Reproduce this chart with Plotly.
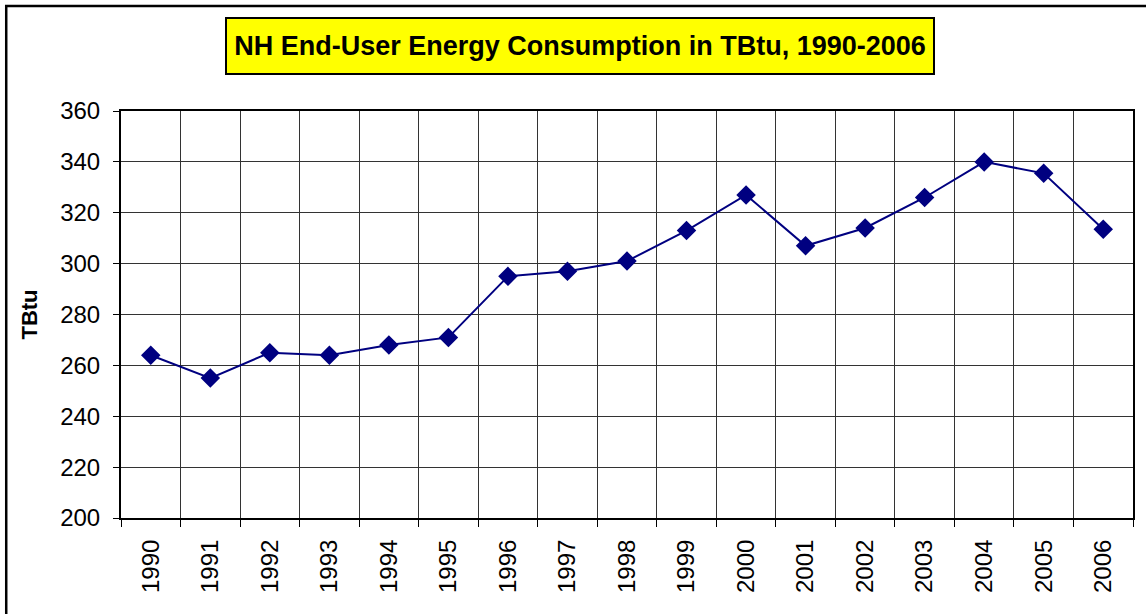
import plotly.graph_objects as go

years = [str(y) for y in range(1990, 2007)]
tbtu = [264, 255, 265, 264, 268, 271, 295, 297, 301, 313, 327, 307, 314, 326, 340, 335.5, 313.5]

title_text = "NH End-User Energy Consumption in TBtu, 1990-2006"
y_title = "TBtu"

W, H = 1146, 614
L, R, T, B = 121, 11, 111, 96
pw, ph = W - L - R, H - T - B

def px(x):
    return (x - L) / pw

def py(y):
    return (H - B - y) / ph

fig = go.Figure()
fig.add_trace(go.Scatter(
    x=years, y=tbtu, mode="lines+markers",
    line=dict(color="#000080", width=2),
    marker=dict(symbol="diamond", size=15, color="#000080"),
    showlegend=False,
))

fig.update_layout(
    width=W, height=H,
    margin=dict(l=L, r=R, t=T, b=B),
    paper_bgcolor="white", plot_bgcolor="white",
    font=dict(family="Liberation Sans, Arial", color="black"),
    xaxis=dict(
        type="category", range=[-0.5, len(years) - 0.5],
        tickson="boundaries", ticks="outside", ticklen=7,
        tickcolor="black", tickangle=-90, tickfont=dict(size=24),
        ticklabelstandoff=10,
        showgrid=True, gridcolor="#333333", gridwidth=1,
        showline=True, linecolor="black", linewidth=2, mirror=True,
    ),
    yaxis=dict(
        range=[200, 360], dtick=20, ticks="outside", ticklen=6, tickcolor="black",
        tickfont=dict(size=24), ticklabelstandoff=8,
        showgrid=True, gridcolor="#333333", gridwidth=1,
        showline=True, linecolor="black", linewidth=2, mirror=True,
        title=dict(text="<b>" + y_title + "</b>", font=dict(size=22), standoff=16),
        zeroline=False,
    ),
    shapes=[dict(
        type="rect", xref="paper", yref="paper",
        x0=px(6), x1=px(1160), y0=py(6), y1=py(630),
        line=dict(color="black", width=2.5), fillcolor="rgba(0,0,0,0)", layer="above",
    )],
    annotations=[dict(
        text="<b>" + title_text + "</b>", xref="paper", yref="paper",
        x=px(581), y=py(46), xanchor="center", yanchor="middle",
        showarrow=False, font=dict(size=27, color="black"),
        bgcolor="#ffff00", bordercolor="black", borderwidth=2,
        width=704, height=52, borderpad=1,
    )],
)

fig.write_html("out.html", config={"displayModeBar": False},
               post_script="document.body.style.margin='0';")
